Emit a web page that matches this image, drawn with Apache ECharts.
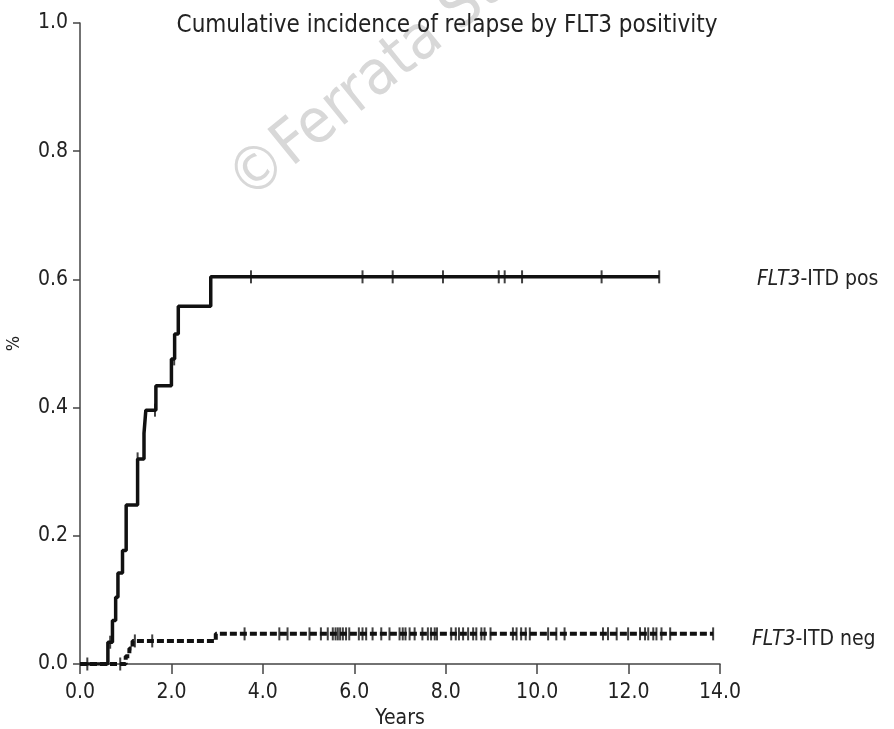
<!DOCTYPE html>
<html>
<head>
<meta charset="utf-8">
<title>Cumulative incidence of relapse by FLT3 positivity</title>
<script src="https://cdn.jsdelivr.net/npm/echarts@6/dist/echarts.min.js"></script>
<style>
html, body { margin: 0; padding: 0; background: #fff; }
#chart { width: 894px; height: 729px; }
</style>
</head>
<body>
<div id="chart"></div>
<script>
// step curve data (years, cumulative incidence)
var posTimes = [0, 0.61, 0.71, 0.78, 0.83, 0.93, 1.01, 1.26, 1.40, 1.44, 1.66, 2.00, 2.07, 2.15, 2.86, 12.67];
var posValues = [0, 0.034, 0.068, 0.104, 0.142, 0.177, 0.248, 0.32, 0.36, 0.396, 0.434, 0.476, 0.515, 0.558, 0.604, 0.604];
var negTimes = [0, 1.00, 1.08, 1.15, 2.97, 13.85];
var negValues = [0, 0.012, 0.024, 0.036, 0.047, 0.047];

// censored observations (years)
var posCensor = [0.66, 1.26, 1.64, 2.06, 3.74, 6.18, 6.84, 7.94, 9.16, 9.29, 9.67, 11.41, 12.67];
var negCensor = [0.16, 0.88, 1.20, 1.58, 3.60, 4.36, 4.54,
  5.02, 5.27, 5.42, 5.53, 5.59, 5.64, 5.69, 5.75, 5.82, 5.89, 6.10, 6.18, 6.26, 6.40,
  6.59, 6.77, 6.99, 7.06, 7.12, 7.21, 7.32, 7.49, 7.61, 7.68, 7.76, 7.81, 8.12, 8.22,
  8.29, 8.38, 8.49, 8.60, 8.67, 8.78, 8.85, 8.98, 9.47, 9.55, 9.65, 9.75, 9.84, 10.24,
  10.42, 10.60, 11.44, 11.55, 11.74, 11.99, 12.25, 12.36, 12.43, 12.54, 12.61, 12.72,
  12.91, 13.85];

var xTicks = [0, 2, 4, 6, 8, 10, 12, 14];
var yTicks = [0, 0.2, 0.4, 0.6, 0.8, 1.0];

var FONT = "'Liberation Sans Narrow', 'DejaVu Sans Condensed', 'Liberation Sans', sans-serif";

function pairs(xs, ys) {
  var out = [];
  for (var i = 0; i < xs.length; i++) out.push([xs[i], ys[i]]);
  return out;
}
// value of the step curve at time t
function stepAt(xs, ys, t) {
  var v = ys[0];
  for (var i = 0; i < xs.length; i++) {
    if (xs[i] <= t) v = ys[i];
  }
  return v;
}
function censorPts(cs, xs, ys) {
  return cs.map(function (t) { return [t, stepAt(xs, ys, t)]; });
}

var chart = echarts.init(document.getElementById('chart'));
var option = {
  animation: false,
  backgroundColor: '#fff',
  title: {
    text: 'Cumulative incidence of relapse by FLT3 positivity',
    left: 'center',
    top: 9,
    textStyle: { fontFamily: FONT, fontSize: 24, fontWeight: 'normal', color: '#222' }
  },
  grid: { left: 80, right: 174, top: 23, bottom: 65, outerBoundsMode: 'none' },
  xAxis: {
    type: 'value',
    min: 0, max: 14, interval: 2,
    name: 'Years',
    nameLocation: 'middle',
    nameGap: 44,
    nameTextStyle: { fontFamily: FONT, fontSize: 21, color: '#222' },
    axisLine: { lineStyle: { color: '#444', width: 1.5 } },
    axisTick: { length: 10, lineStyle: { color: '#444', width: 1.5 } },
    axisLabel: {
      fontFamily: FONT, fontSize: 21, color: '#222', margin: 18,
      formatter: function (v) { return xTicks.indexOf(v) >= 0 ? v.toFixed(1) : ''; }
    },
    splitLine: { show: false }
  },
  yAxis: {
    type: 'value',
    min: 0, max: 1, interval: 0.2,
    name: '%',
    nameLocation: 'middle',
    nameGap: 57,
    nameTextStyle: { fontFamily: FONT, fontSize: 18, color: '#222' },
    axisLine: { show: true, lineStyle: { color: '#444', width: 1.5 } },
    axisTick: { show: true, length: 7, lineStyle: { color: '#444', width: 1.5 } },
    axisLabel: {
      fontFamily: FONT, fontSize: 21, color: '#222', margin: 12,
      formatter: function (v) { return yTicks.indexOf(+v.toFixed(1)) >= 0 ? v.toFixed(1) : ''; }
    },
    splitLine: { show: false }
  },
  series: [
    {
      name: 'FLT3-ITD pos',
      type: 'line',
      step: 'end',
      data: pairs(posTimes, posValues),
      showSymbol: false,
      lineStyle: { color: '#111', width: 3.5 },
      z: 3
    },
    {
      name: 'FLT3-ITD neg',
      type: 'line',
      step: 'end',
      data: pairs(negTimes, negValues),
      showSymbol: false,
      lineStyle: { color: '#111', width: 4, type: [7, 3] },
      z: 3
    },
    {
      type: 'scatter',
      data: censorPts(posCensor, posTimes, posValues),
      symbol: 'rect',
      symbolSize: [2, 13],
      itemStyle: { color: '#111' },
      z: 4
    },
    {
      type: 'scatter',
      data: censorPts(negCensor, negTimes, negValues),
      symbol: 'rect',
      symbolSize: [2, 13],
      itemStyle: { color: '#111' },
      z: 4
    }
  ]
};
chart.setOption(option);

// watermark and curve labels at the right
var posY = chart.convertToPixel({ gridIndex: 0 }, [0, posValues[posValues.length - 1]])[1];
var negY = chart.convertToPixel({ gridIndex: 0 }, [0, negValues[negValues.length - 1]])[1];
var labelRich = {
  i: { fontFamily: FONT, fontSize: 21, fontStyle: 'italic', fill: '#222' },
  n: { fontFamily: FONT, fontSize: 21, fill: '#222' }
};
chart.setOption({
  graphic: [
    {
      type: 'text',
      x: 238, y: 190,
      rotation: 0.68,
      z: 0,
      silent: true,
      style: {
        text: '\u00A9Ferrata Storti Foundation',
        fontFamily: FONT, fontSize: 62,
        fill: '#d8d8d8',
        verticalAlign: 'middle'
      }
    },
    {
      type: 'text',
      x: 757, y: posY + 3,
      style: { text: '{i|FLT3}{n|-ITD pos}', rich: labelRich, verticalAlign: 'middle' }
    },
    {
      type: 'text',
      x: 752, y: negY + 6,
      style: { text: '{i|FLT3}{n|-ITD neg}', rich: labelRich, verticalAlign: 'middle' }
    }
  ]
});
</script>
</body>
</html>
